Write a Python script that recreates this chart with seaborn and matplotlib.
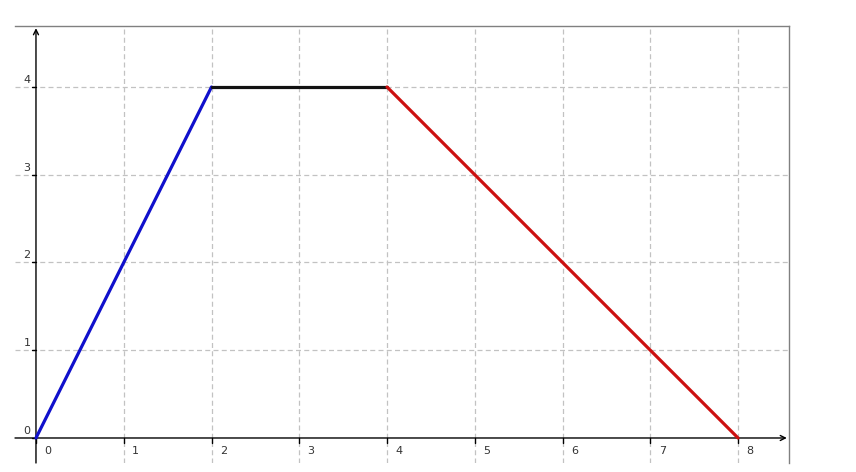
import matplotlib
matplotlib.use("Agg")
import matplotlib.pyplot as plt
import seaborn as sns
import pandas as pd

# segments of the graph
seg_x = [[0, 2], [2, 4], [4, 8]]
seg_y = [[0, 4], [4, 4], [4, 0]]
seg_colors = ["#1010cc", "#111111", "#cc1010"]

xticks = [0, 1, 2, 3, 4, 5, 6, 7, 8]
yticks = [0, 1, 2, 3, 4]

sns.set_style("white")
fig = plt.figure(figsize=(8.56, 4.72), dpi=100)
ax = fig.add_axes([15 / 856, 9 / 472, 774 / 856, 437 / 472])

xmin, xmax = -0.239, 8.58
ymin, ymax = -0.285, 4.695

# dashed grid
for v in xticks[1:]:
    ax.axvline(v, color="#c2c2c2", lw=0.9, ls=(0, (4, 2.6)), zorder=1)
for v in yticks[1:]:
    ax.axhline(v, color="#c2c2c2", lw=0.9, ls=(0, (4, 2.6)), zorder=1)

# axes with arrows
ax.annotate("", xy=(0, 4.67), xytext=(0, ymin),
            arrowprops=dict(arrowstyle="->", color="black", lw=1.0, shrinkA=0, shrinkB=0,
                            mutation_scale=9), zorder=3)
ax.annotate("", xy=(8.555, 0), xytext=(xmin, 0),
            arrowprops=dict(arrowstyle="->", color="black", lw=1.0, shrinkA=0, shrinkB=0,
                            mutation_scale=9), zorder=3)

# tick marks and labels
for v in xticks:
    ax.plot([v, v], [-0.055, 0], color="black", lw=1, zorder=3)
    ax.annotate(str(v), (v, 0), xytext=(6, -6), textcoords="offset points",
                ha="left", va="top", fontsize=8, color="#333333")
for v in yticks:
    ax.plot([-0.05, 0], [v, v], color="black", lw=1, zorder=3)
    ax.annotate(str(v), (0, v), xytext=(-4, 1.5), textcoords="offset points",
                ha="right", va="bottom", fontsize=8, color="#333333")

for xs, ys, c in zip(seg_x, seg_y, seg_colors):
    df = pd.DataFrame({"x": xs, "y": ys})
    sns.lineplot(data=df, x="x", y="y", color=c, lw=2.3, ax=ax, zorder=4)

ax.set_xlim(xmin, xmax)
ax.set_ylim(ymin, ymax)
ax.set_xticks([])
ax.set_yticks([])
ax.set_xlabel("")
ax.set_ylabel("")
ax.spines["left"].set_visible(False)
ax.spines["bottom"].set_visible(False)
ax.spines["top"].set_color("#808080")
ax.spines["right"].set_color("#808080")
ax.spines["top"].set_linewidth(1)
ax.spines["right"].set_linewidth(1)

fig.savefig("out.png", dpi=100)
